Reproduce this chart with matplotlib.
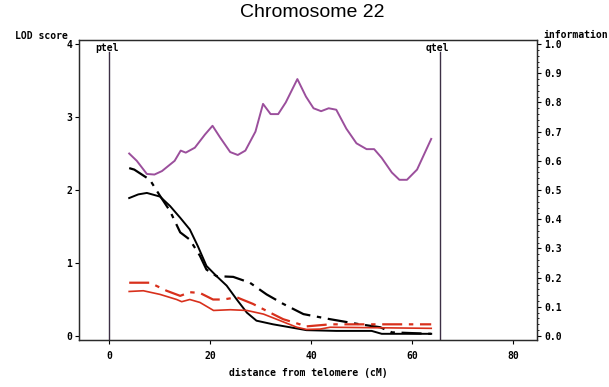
import numpy as np
import matplotlib
matplotlib.use("Agg")
import matplotlib.pyplot as plt

# Data (distance in cM)
info_x = [4.0, 5.5, 7.5, 9.0, 10.5, 13.0, 14.2, 15.2, 17.0, 19.0, 20.5, 22.0, 24.0, 25.5,
          27.0, 29.0, 30.5, 32.0, 33.5, 35.0, 37.3, 39.0, 40.5, 42.0, 43.5, 45.0, 47.0,
          49.0, 51.0, 52.5, 54.0, 56.0, 57.5, 59.0, 61.0, 63.8]
info_y = [0.625, 0.60, 0.555, 0.553, 0.565, 0.60, 0.635, 0.628, 0.645, 0.69, 0.72, 0.68,
          0.63, 0.62, 0.635, 0.70, 0.795, 0.76, 0.76, 0.80, 0.88, 0.82, 0.78, 0.77, 0.78,
          0.775, 0.71, 0.66, 0.64, 0.64, 0.61, 0.56, 0.535, 0.535, 0.57, 0.675]

blk_solid_x = [4.0, 5.8, 7.5, 10.1, 12.1, 14.1, 16.0, 17.6, 19.3, 21.3, 23.3, 25.3, 27.3,
               29.2, 32.5, 35.8, 39.1, 45.0, 52.0, 54.0, 63.8]
blk_solid_y = [1.89, 1.94, 1.96, 1.91, 1.78, 1.62, 1.46, 1.23, 0.96, 0.82, 0.69, 0.50, 0.32,
               0.21, 0.16, 0.12, 0.08, 0.07, 0.07, 0.03, 0.03]

blk_dash_x = [4.0, 5.0, 8.1, 10.1, 12.1, 14.1, 16.0, 18.0, 19.3, 21.3, 24.6, 27.9, 31.2,
              34.5, 38.5, 43.8, 49.7, 53.7, 56.0, 63.8]
blk_dash_y = [2.30, 2.28, 2.14, 1.92, 1.71, 1.42, 1.32, 1.10, 0.91, 0.82, 0.81, 0.73, 0.57,
              0.44, 0.30, 0.23, 0.16, 0.12, 0.05, 0.03]

red_dash_x = [4.0, 8.1, 11.4, 14.1, 16.0, 18.0, 20.6, 22.6, 25.3, 28.5, 31.9, 34.5, 37.8,
              38.8, 43.8, 63.8]
red_dash_y = [0.73, 0.73, 0.62, 0.55, 0.60, 0.59, 0.50, 0.50, 0.53, 0.44, 0.32, 0.23, 0.16,
              0.13, 0.16, 0.16]

red_solid_x = [4.0, 6.8, 10.1, 13.4, 14.4, 16.0, 18.0, 20.7, 24.0, 27.3, 30.6, 33.9, 37.2,
               39.1, 41.8, 43.8, 63.8]
red_solid_y = [0.61, 0.62, 0.57, 0.50, 0.47, 0.50, 0.46, 0.35, 0.36, 0.35, 0.30, 0.21, 0.12,
               0.09, 0.095, 0.12, 0.105]

ptel, qtel = 0.0, 65.5

fig = plt.figure(figsize=(6.09, 3.87), dpi=100)
ax = fig.add_axes([0.1297, 0.1214, 0.7521, 0.7752])
ax2 = ax.twinx()

lab_font = dict(family="DejaVu Sans Mono", fontweight="bold", fontsize=7)

ax.plot(blk_solid_x, blk_solid_y, color="black", lw=1.4)
ax.plot(blk_dash_x, blk_dash_y, color="black", lw=1.6, dashes=(9, 3, 2, 3))
ax.plot(red_dash_x, red_dash_y, color="#d8301c", lw=1.6, dashes=(9, 3, 2, 3))
ax.plot(red_solid_x, red_solid_y, color="#d8301c", lw=1.2)
ax2.plot(info_x, info_y, color="#9b4f9c", lw=1.4)

ylo, yhi = -0.055, 4.055
ax.set_xlim(-5.94, 84.75)
ax.set_ylim(ylo, yhi)
ax2.set_ylim(ylo / 4, yhi / 4)

# telomere markers
for xpos, name in [(ptel, "ptel"), (qtel, "qtel")]:
    ax.plot([xpos, xpos], [ylo, 3.89], color="#3d2f45", lw=1.0)
    ax.text(xpos - 0.4, 3.95, name, ha="center", va="center", **lab_font)

ax.set_xticks([0, 20, 40, 60, 80])
ax.set_yticks([0, 1, 2, 3, 4])
ax2.set_yticks(np.arange(0, 1.01, 0.1))
ax2.set_yticks(np.arange(0, 1.001, 0.02), minor=True)
ax2.set_yticklabels([f"{v:.1f}" for v in np.arange(0, 1.01, 0.1)])

for a in (ax, ax2):
    a.tick_params(length=3, width=0.8, pad=2, labelsize=7)
    for lbl in a.get_xticklabels() + a.get_yticklabels():
        lbl.set_fontfamily("DejaVu Sans Mono")
        lbl.set_fontweight("bold")
    for s in a.spines.values():
        s.set_linewidth(0.9)
        s.set_color("#2a2a2a")
ax2.tick_params(which="minor", length=1.5, width=0.6)
ax.tick_params(axis="x", pad=5)

ax.set_xlabel("distance from telomere (cM)", labelpad=5, **lab_font)
fig.text(0.025, 0.893, "LOD score", ha="left", va="bottom", **lab_font)
fig.text(0.893, 0.897, "information", ha="left", va="bottom", **lab_font)
fig.text(0.512, 0.967, "Chromosome 22", ha="center", va="center", fontsize=14,
         family="Liberation Sans")

fig.savefig("out.png", dpi=100)
